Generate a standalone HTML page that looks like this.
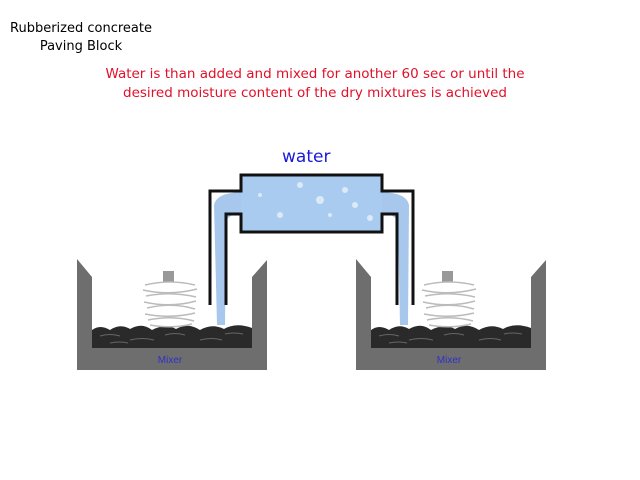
<!DOCTYPE html>
<html><head><meta charset="utf-8"><style>
body{margin:0;background:#fff;width:640px;height:480px;overflow:hidden;font-family:"DejaVu Sans","Liberation Sans",sans-serif}
.t{position:absolute;white-space:nowrap}
</style></head><body>
<div class="t" style="left:10px;top:20px;font-size:13px;color:#000;line-height:18px;text-align:center">Rubberized concreate<br>Paving Block</div>
<div class="t" style="left:0;width:630px;top:65px;font-size:13.5px;color:#e0102a;line-height:19px;text-align:center">Water is than added and mixed for another 60 sec or until the<br>desired moisture content of the dry mixtures is achieved</div>
<div class="t" style="left:282px;top:147px;font-size:17px;color:#1a1ad8">water</div>
<svg width="640" height="480" style="position:absolute;left:0;top:0">
<defs>
<g id="mixer">
<polygon points="77,259 92,277 92,348 252,348 252,277 267,260 267,370 77,370" fill="#6e6e6e"/>
<path d="M92,348 L92,330 Q100,324 110,330 Q120,323 130,329 Q142,322 152,330 Q165,323 176,329 Q188,322 200,330 Q212,323 224,329 Q236,322 252,328 L252,348 Z" fill="#2a2a2a"/>
<g stroke="#666" stroke-width="1" fill="none">
<path d="M100,336 q10,-3 20,0 M130,340 q12,-3 24,0 M165,335 q10,-3 20,0 M200,340 q12,-3 22,0 M225,334 q8,-2 18,0 M110,343 q10,-2 18,0"/>
</g>
<rect x="163" y="271" width="11" height="11" fill="#999"/>
<g stroke="#bbb" stroke-width="1.5" fill="none">
<path d="M145,285 q25,-6 50,0 M143,290 q27,6 54,-1 M146,296 q25,-5 50,1 M144,302 q27,6 52,-1 M147,308 q25,-6 48,1 M145,314 q26,5 50,-1 M148,320 q24,-5 46,1 M150,325 q22,4 42,-1"/>
</g>
<text x="170" y="363" font-size="10" fill="#3030c8" text-anchor="middle" font-family="Liberation Sans,sans-serif">Mixer</text>
</g>
</defs>
<use href="#mixer"/>
<use href="#mixer" transform="translate(279,0)"/>
<path d="M214,205 Q216,193 241,192 L241,214 Q228,214 226,222 L225,325 L217,325 Z" fill="#a7c8ec"/>
<path d="M409,205 Q407,193 382,192 L382,214 Q395,214 398,222 L400,325 L408,325 Z" fill="#a7c8ec"/>
<rect x="241" y="175" width="141" height="57" fill="#a9cbef"/>
<g fill="#dbe9f8">
<circle cx="300" cy="185" r="3"/><circle cx="320" cy="200" r="4"/><circle cx="345" cy="190" r="3"/><circle cx="280" cy="215" r="3"/><circle cx="330" cy="215" r="2"/><circle cx="370" cy="218" r="3"/><circle cx="260" cy="195" r="2"/><circle cx="355" cy="205" r="3"/>
</g>
<path d="M210,305 V191 H241 V175 H382 V191 H413 V305" fill="none" stroke="#111" stroke-width="3"/>
<path d="M226,305 V214 H241 V232 H382 V214 H397 V305" fill="none" stroke="#111" stroke-width="3"/>
</svg>
</body></html>
